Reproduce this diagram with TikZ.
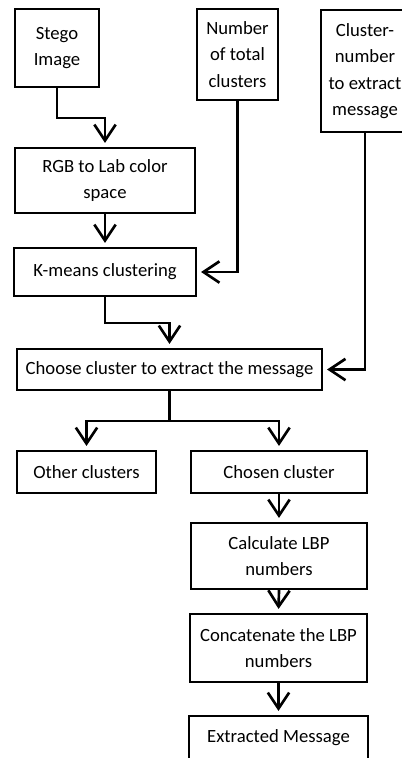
\documentclass[tikz,border=0pt]{standalone}
\usepackage{fontspec}
\setmainfont{Carlito}
\usetikzlibrary{arrows.meta}
\begin{document}
\begin{tikzpicture}[x=0.75pt,y=-0.75pt,
  box/.style={draw,line width=1.6pt,inner sep=0pt,align=center,
    font=\fontsize{14}{19.8}\selectfont},
  arr/.style={line width=2pt,-{Straight Barb[length=12pt,width=16pt,line width=2pt]},shorten >=3pt}]
\useasboundingbox (0,0) rectangle (402,758);
\clip (0,0) rectangle (402,758);
\node[box,minimum width=63pt,minimum height=58.5pt] (stego) at (57,48) {Stego\\Image};
\node[box,minimum width=60.75pt,minimum height=68.25pt] (total) at (237.5,54.5) {Number\\of total\\clusters};
\node[box,minimum width=66pt,minimum height=91.5pt] (clnum) at (365,71) {Cluster-\\number\\to extract\\message};
\node[box,minimum width=135pt,minimum height=48.75pt] (rgb) at (105,180.5) {RGB to Lab color\\space};
\node[box,minimum width=136.5pt,minimum height=36pt] (kmeans) at (105,272) {K-means clustering};
\node[box,minimum width=228.75pt,minimum height=30.75pt] (choose) at (169.5,369.5) {Choose cluster to extract the message};
\node[box,minimum width=104.25pt,minimum height=31.5pt] (other) at (86.5,472) {Other clusters};
\node[box,minimum width=132pt,minimum height=31.5pt] (chosen) at (279,472) {Chosen cluster};
\node[box,minimum width=132pt,minimum height=49.5pt] (calc) at (279,556) {Calculate LBP\\numbers};
\node[box,minimum width=132.75pt,minimum height=51pt] (concat) at (278.5,648) {Concatenate the LBP\\numbers};
\node[box,minimum width=134.25pt,minimum height=33pt] (extr) at (278.5,738) {Extracted Message};
\draw[arr] (stego.south) -- ++(0,30) -| (rgb.north);
\draw[arr] (rgb.south) -- (kmeans.north);
\draw[arr] (total.south) |- (kmeans.east);
\draw[arr] (kmeans.south) -- ++(0,26) -| (choose.north);
\draw[arr] (clnum.south) |- (choose.east);
\coordinate (split) at ([yshift=-30*0.75pt]choose.south);
\draw[line width=2pt] (choose.south) -- (split);
\draw[arr] (split) -| (other.north);
\draw[arr] (split) -| (chosen.north);
\draw[arr] (chosen.south) -- (calc.north);
\draw[arr] (calc.south) -- (concat.north);
\draw[arr] (concat.south) -- (extr.north);
\end{tikzpicture}
\end{document}
